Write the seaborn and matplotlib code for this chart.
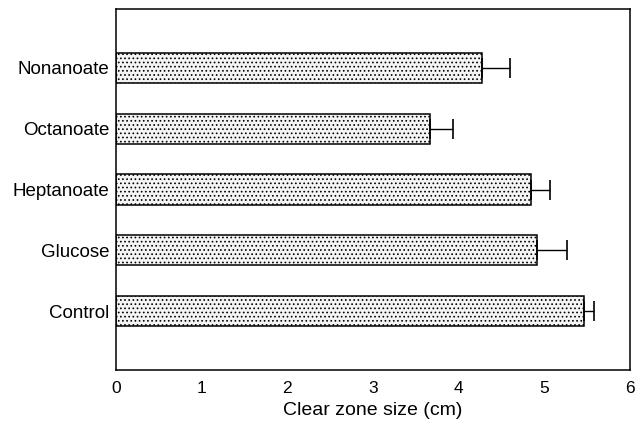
import matplotlib
matplotlib.use("Agg")
import matplotlib.pyplot as plt
import seaborn as sns
import pandas as pd
import numpy as np

categories = ["Nonanoate", "Octanoate", "Heptanoate", "Glucose", "Control"]
values = [4.27, 3.66, 4.84, 4.91, 5.46]
errors = [0.33, 0.27, 0.23, 0.36, 0.12]
xticks = [0, 1, 2, 3, 4, 5, 6]

sns.set_theme(style="white")
plt.rcParams['font.family'] = ['Liberation Sans', 'DejaVu Sans']
plt.rcParams['hatch.color'] = '#8a8a8a'
plt.rcParams['hatch.linewidth'] = 0.7
plt.rcParams['text.color'] = 'black'
plt.rcParams['axes.labelcolor'] = 'black'
plt.rcParams['xtick.color'] = 'black'
plt.rcParams['ytick.color'] = 'black'

df = pd.DataFrame({"Category": categories, "Size": values, "Err": errors})

fig = plt.figure(figsize=(6.36, 4.29), dpi=100)
ax = fig.add_axes([116/636, 1-370/429, (630-116)/636, (370-9)/429])

sns.barplot(data=df, x="Size", y="Category", orient="h", width=0.5,
            color="#f4f4f4", edgecolor="black", linewidth=1.1, ax=ax,
            errorbar=None, saturation=1)
for p in ax.patches:
    p.set_hatch("....")

ypos = np.arange(len(categories))
ax.errorbar(df["Size"], ypos, xerr=[np.zeros(len(errors)), df["Err"]],
            fmt="none", ecolor="black", elinewidth=1.0, capsize=7.2,
            capthick=1.2, zorder=1)

ax.set_xlim(0, 6)
ax.set_ylim(4.97, -0.97)
ax.set_xticks(xticks)
ax.set_xticklabels([str(t) for t in xticks], fontsize=12.5)
ax.tick_params(axis="x", direction="out", length=5, width=1, color="black",
               labelcolor="black", pad=3)
ax.tick_params(axis="y", length=0, labelsize=13.5, labelcolor="black", pad=5)
ax.set_xlabel("Clear zone size (cm)", fontsize=14, labelpad=4, color="black")
ax.set_ylabel("")
for s in ax.spines.values():
    s.set_visible(True)
    s.set_color("black")
    s.set_linewidth(1.1)

fig.savefig("out.png", dpi=100)
